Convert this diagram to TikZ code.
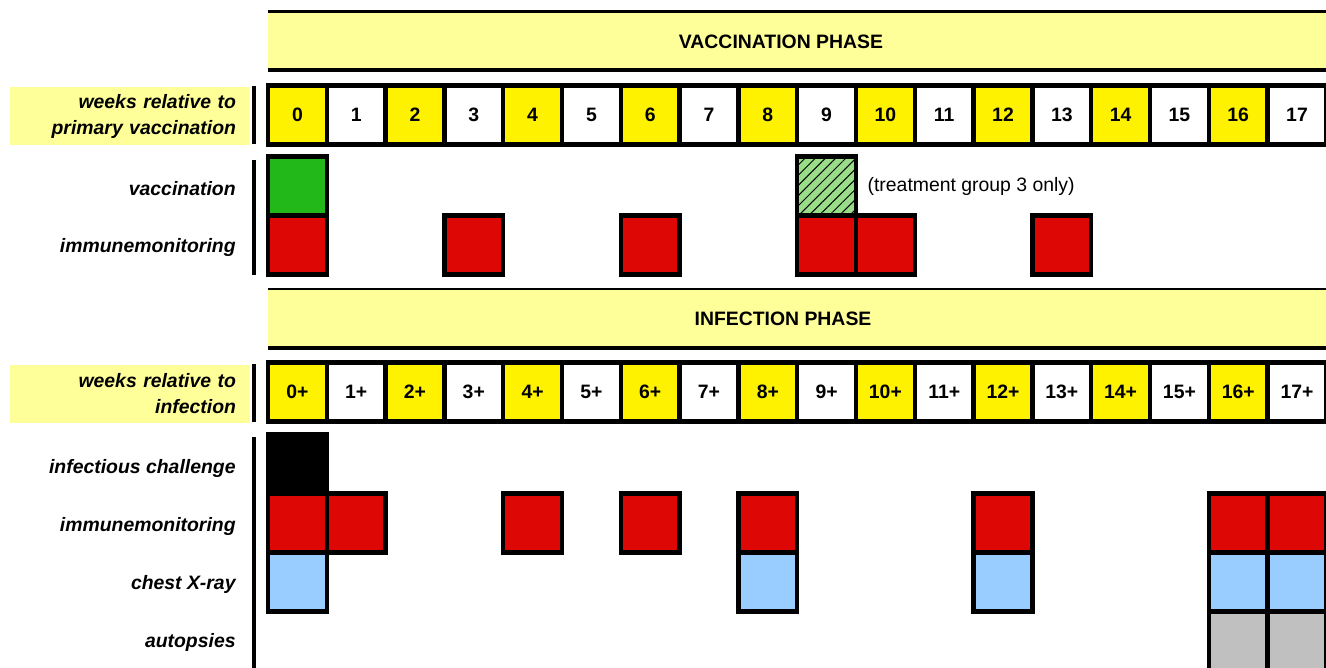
\documentclass[tikz,border=0pt]{standalone}
\usepackage{fontspec}
\setmainfont{Liberation Sans}
\usetikzlibrary{patterns.meta}

\definecolor{bandyellow}{HTML}{FFFF99}
\definecolor{weekyellow}{HTML}{FFF200}
\definecolor{vacgreen}{HTML}{22B81A}
\definecolor{hatchgreen}{HTML}{99DD88}
\definecolor{immred}{HTML}{DD0806}
\definecolor{xrayblue}{HTML}{99CCFF}
\definecolor{autgray}{HTML}{C0C0C0}

\tikzset{
  cell/.style={draw=black,line width=2.2pt,minimum width=29.4pt,minimum height=29.4pt,inner sep=0pt,font=\bfseries},
  band/.style={fill=bandyellow,minimum width=529pt,minimum height=29pt,inner sep=0pt},
  title/.style={inner sep=0pt,font=\bfseries},
  labelbox/.style={fill=bandyellow,text width=106pt,align=right,inner xsep=7pt,minimum height=29pt,font=\bfseries\itshape},
  rowlabel/.style={anchor=east,inner sep=0pt,font=\bfseries\itshape},
  bar/.style={line width=2pt}
}

\begin{document}
\fontsize{9.7}{13}\selectfont
\begin{tikzpicture}[x=0.5pt,y=-0.5pt]
\useasboundingbox (0,0) rectangle (1326,668);

% vaccination phase
\node[band] (vphase) at (797,41) {};
\node[title] (vtitle) at (781,42) {VACCINATION PHASE};
\draw[line width=1.2pt] (vphase.north west) -- (vphase.north east);
\draw[line width=2pt] (vphase.south west) -- (vphase.south east);

\node[labelbox] (vlab) at (130,116) {weeks relative to\\primary vaccination};
\draw[bar] (254,86) -- (254,144);
\foreach \w in {0,...,17} {
  \ifodd\w \def\cellfill{white}\else\def\cellfill{weekyellow}\fi
  \node[cell,fill=\cellfill] (v\w) at (297.4+\w*58.8,115) {\w};
}

\coordinate (vvac) at (0,186);
\coordinate (vimm) at (0,245);
\node[rowlabel] (lvvac) at (236,189) {vaccination};
\node[rowlabel] (lvimm) at (236,247) {immunemonitoring};
\draw[bar] (254,160) -- (254,275);

\node[cell,fill=vacgreen] (vvac0) at (v0 |- vvac) {};
\node[cell,fill=hatchgreen,postaction={pattern={Lines[angle=45,distance=3.6pt,line width=0.5pt]}}] (vvac9) at (v9 |- vvac) {};
\node[anchor=west,inner sep=0pt] (note) at ([xshift=4.5pt]vvac9.east) {(treatment group 3 only)};
\foreach \w in {0,3,6,9,10,13}
  \node[cell,fill=immred] (vimm\w) at (v\w |- vimm) {};

% infection phase
\node[band] (iphase) at (797,318.5) {};
\node[title] (ititle) at (783,319) {INFECTION PHASE};
\draw[line width=1.2pt] (iphase.north west) -- (iphase.north east);
\draw[line width=2pt] (iphase.south west) -- (iphase.south east);

\node[labelbox] (ilab) at (130,394) {weeks relative to\\infection};
\draw[bar] (254,364) -- (254,422);
\foreach \w in {0,...,17} {
  \ifodd\w \def\cellfill{white}\else\def\cellfill{weekyellow}\fi
  \node[cell,fill=\cellfill] (i\w) at (297.4+\w*58.8,392) {\w+};
}

\coordinate (ich) at (0,464);
\coordinate (iimm) at (0,523);
\coordinate (ixr) at (0,582);
\coordinate (iaut) at (0,641);
\node[rowlabel] (lich) at (236,468) {infectious challenge};
\node[rowlabel] (liimm) at (236,526) {immunemonitoring};
\node[rowlabel] (lixr) at (236,584) {chest X-ray};
\node[rowlabel] (liaut) at (236,642) {autopsies};
\draw[bar] (254,437) -- (254,668);

\node[cell,fill=black] (ich0) at (i0 |- ich) {};
\foreach \w in {0,1,4,6,8,12,16,17}
  \node[cell,fill=immred] (iimm\w) at (i\w |- iimm) {};
\foreach \w in {0,8,12,16,17}
  \node[cell,fill=xrayblue] (ixr\w) at (i\w |- ixr) {};
\foreach \w in {16,17}
  \node[cell,fill=autgray] (iaut\w) at (i\w |- iaut) {};
\end{tikzpicture}
\end{document}
